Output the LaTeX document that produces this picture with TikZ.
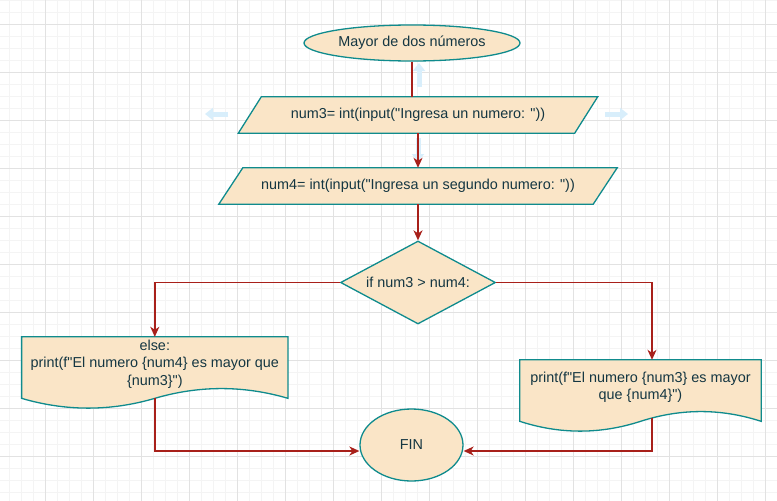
\documentclass[tikz,border=0pt]{standalone}
\usepackage{fontspec}
\setmainfont{Liberation Sans}[Ligatures=TeXOff]
\usetikzlibrary{shapes.geometric,arrows.meta,calc}
\pgfdeclarelayer{gridlayer}
\pgfdeclarelayer{bglayer}
\pgfsetlayers{gridlayer,bglayer,main}
\definecolor{shfill}{HTML}{FAE5C7}
\definecolor{shline}{HTML}{0F8B8D}
\definecolor{arrcol}{HTML}{A8201A}
\definecolor{txtcol}{HTML}{143642}
\definecolor{gridmaj}{HTML}{E2E2E2}
\definecolor{gridmin}{HTML}{F4F4F4}
\definecolor{hoverblue}{HTML}{D8EEFB}
\newcommand\docoutline[1]{%
 \path[shp] let \p1=(#1.north west), \p2=(#1.south east), \n1={\x2-\x1}, \n2={\y1-\y2} in
 (\x1,\y1) -- (\x2,\y1) -- (\x2,{\y2+0.15*\n2})
 .. controls ({\x2-\n1/6},{\y2+0.33*\n2}) and ({\x2-\n1/3},{\y2+0.33*\n2}) .. ({\x1+\n1/2},{\y2+0.15*\n2})
 .. controls ({\x1+\n1/3},{\y2-0.03*\n2}) and ({\x1+\n1/6},{\y2-0.03*\n2}) .. (\x1,{\y2+0.15*\n2}) -- cycle;}
\newcommand\paraoutline[2]{%
 \path[shp] ([xshift=-#2]#1.south west) -- ([xshift=#2]#1.north west) -- ([xshift=#2]#1.north east) -- ([xshift=-#2]#1.south east) -- cycle;}
\begin{document}
\begin{tikzpicture}[x=1pt,y=-1pt,
 every node/.style={font=\fontsize{14.4}{17.5}\selectfont, text=txtcol, inner sep=0pt},
 shp/.style={draw=shline, fill=shfill, line width=1.3pt},
 term/.style={ellipse, shp},
 box/.style={rectangle},
 dec/.style={diamond, shp, aspect=1.87},
 conn/.style={draw=arrcol, line width=1.4pt},
 arr/.style={conn, -{Stealth[length=10pt,width=9pt,inset=3pt]}},
 hover/.style={draw=hoverblue, line width=5pt, -{Triangle[length=8pt,width=12pt]}}
 ]
\useasboundingbox (0,0) rectangle (777,501);
\begin{pgfonlayer}{gridlayer}
 \fill[white] (0,0) rectangle (777,501);
 \foreach \x in {9.5,21.5,...,777} \draw[gridmin, line width=1pt] (\x,0) -- (\x,501);
 \foreach \y in {0,12,...,501} \draw[gridmin, line width=1pt] (0,\y) -- (777,\y);
 \foreach \x in {45.5,93.5,...,777} \draw[gridmaj, line width=1pt] (\x,0) -- (\x,501);
 \foreach \y in {24,72,...,501} \draw[gridmaj, line width=1pt] (0,\y) -- (777,\y);
\end{pgfonlayer}

\node[term, minimum width=216, minimum height=36] (start) at (412,43) {Mayor de dos números};
\node[box, minimum width=336, minimum height=36] (p1) at (418,115) {num3= int(input("Ingresa un numero: "))};
\node[box, minimum width=374, minimum height=36] (p2) at (418,186) {num4= int(input("Ingresa un segundo numero: "))};
\node[dec, minimum width=155, minimum height=83] (cond) at (418,282.5) {if num3 > num4:};
\node[box, minimum width=266, minimum height=72] (docL) at (154.8,373) {};
\node[align=center] (docLt) at (154.8,363.8) {else:\\print(f"El numero \{num4\} es mayor que\\\{num3\}")};
\node[box, minimum width=241, minimum height=72] (docR) at (640.5,396) {};
\node[align=center] (docRt) at (640.5,387.5) {print(f"El numero \{num3\} es mayor\\que \{num4\}")};
\node[term, minimum width=103, minimum height=72] (fin) at (411.5,445) {FIN};

\begin{pgfonlayer}{bglayer}
 \paraoutline{p1}{11.5pt}
 \paraoutline{p2}{12pt}
 \docoutline{docL}
 \docoutline{docR}
 \draw[hover] (419,87) -- (419,63);
 \draw[hover] (228,114) -- (205,114);
 \draw[hover] (605,114) -- (628,114);
 \draw[hover] (418,138) -- (418,162);
\end{pgfonlayer}

\coordinate (Rin) at ([xshift=11.5pt]docR.north);
\coordinate (Lout) at ([yshift=10.8pt]docL.south);
\coordinate (Rout) at ([xshift=11.5pt,yshift=14pt]docR.south);
\coordinate (FinL) at ([yshift=-6pt]fin.west);
\coordinate (FinR) at ([yshift=-6pt]fin.east);

\draw[conn] (start.south) -- (start.south |- p1.north);
\draw[arr] (p1.south) -- (p2.north);
\draw[arr] (p2.south) -- (cond.north);
\draw[arr] (cond.west) -| (docL.north);
\draw[arr] (cond.east) -| (Rin);
\draw[arr] (Lout) |- (FinL);
\draw[arr] (Rout) |- (FinR);
\end{tikzpicture}
\end{document}
